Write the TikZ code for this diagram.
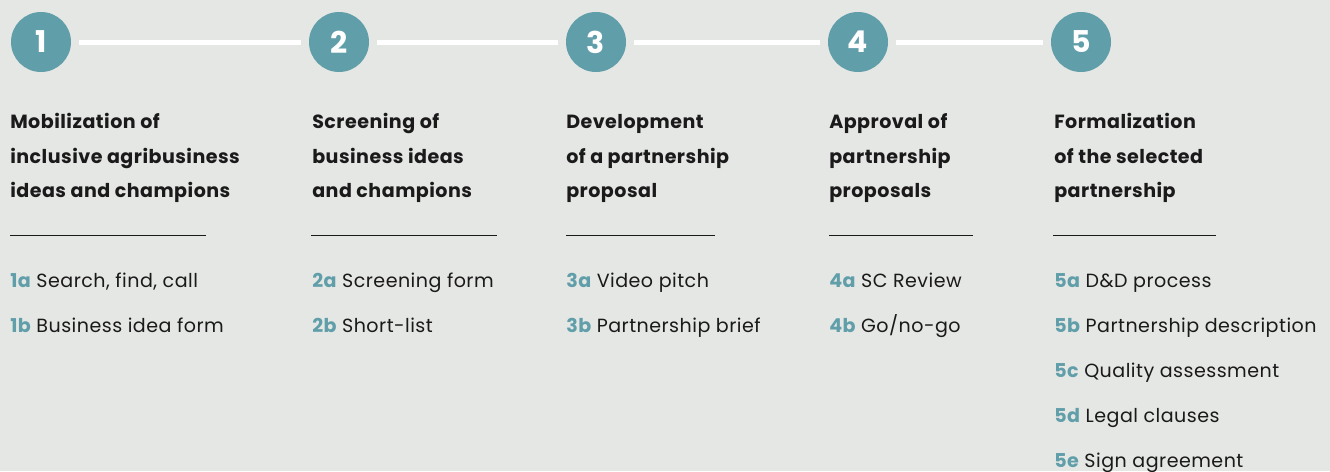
\documentclass[tikz,border=0pt]{standalone}
\usepackage{fontspec}
\setmainfont{Poppins}
\newfontfamily\spacedfont[LetterSpace=2.5]{Poppins}
\definecolor{bg}{HTML}{E5E7E4}
\definecolor{teal}{HTML}{609EA9}
\definecolor{ink}{HTML}{1A1A1A}
\tikzset{
  stepcircle/.style={circle,fill=teal,minimum size=45pt,inner sep=0pt,text=white,font=\bfseries\fontsize{22.5}{22.5}\selectfont},
  conn/.style={draw=white,line width=3.75pt,shorten <=6pt,shorten >=6pt},
  title/.style={anchor=base west,inner sep=0pt,text=ink,font=\spacedfont\bfseries\fontsize{14.3}{14.3}\selectfont},
  item/.style={anchor=base west,inner sep=0pt,text=ink,font=\spacedfont\fontsize{14.3}{14.3}\selectfont},
  sep/.style={draw=ink,line width=0.9pt}
}
\newcommand{\lab}[1]{\textcolor{teal}{\bfseries #1}}
\begin{document}
\begin{tikzpicture}[x=0.75pt,y=-0.75pt]
\fill[bg] (0,0) rectangle (1330,471);
\useasboundingbox (0,0) rectangle (1330,471);
% circles
\node[stepcircle] (c1) at (41,42) {1};
\node[stepcircle] (c2) at (339,42) {2};
\node[stepcircle] (c3) at (596,42) {3};
\node[stepcircle] (c4) at (858,42) {4};
\node[stepcircle] (c5) at (1081,42) {5};
\draw[conn] (c1.east) -- (c2.west);
\draw[conn] (c2.east) -- (c3.west);
\draw[conn] (c3.east) -- (c4.west);
\draw[conn] (c4.east) -- (c5.west);
% column 1
\node[title] (t1a) at (10,128) {Mobilization of};
\node[title] (t1b) at (10,163) {inclusive agribusiness};
\node[title] (t1c) at (10,197) {ideas and champions};
\coordinate (s1a) at (10,235.5); \coordinate (s1b) at (206,235.5);
\draw[sep] (s1a) -- (s1b);
\node[item] (i1a) at (10,287) {\lab{1a} Search, find, call};
\node[item] (i1b) at (10,332) {\lab{1b} Business idea form};
% column 2
\node[title] (t2a) at (312,128) {Screening of};
\node[title] (t2b) at (312,163) {business ideas};
\node[title] (t2c) at (312,197) {and champions};
\coordinate (s2a) at (311,235.5); \coordinate (s2b) at (497,235.5);
\draw[sep] (s2a) -- (s2b);
\node[item] (i2a) at (312,287) {\lab{2a} Screening form};
\node[item] (i2b) at (312,332) {\lab{2b} Short-list};
% column 3
\node[title] (t3a) at (566,128) {Development};
\node[title] (t3b) at (566,163) {of a partnership};
\node[title] (t3c) at (566,197) {proposal};
\coordinate (s3a) at (566,235.5); \coordinate (s3b) at (715,235.5);
\draw[sep] (s3a) -- (s3b);
\node[item] (i3a) at (566,287) {\lab{3a} Video pitch};
\node[item] (i3b) at (566,332) {\lab{3b} Partnership brief};
% column 4
\node[title] (t4a) at (829,128) {Approval of};
\node[title] (t4b) at (829,163) {partnership};
\node[title] (t4c) at (829,197) {proposals};
\coordinate (s4a) at (829,235.5); \coordinate (s4b) at (973,235.5);
\draw[sep] (s4a) -- (s4b);
\node[item] (i4a) at (829,287) {\lab{4a} SC Review};
\node[item] (i4b) at (829,332) {\lab{4b} Go/no-go};
% column 5
\node[title] (t5a) at (1054,128) {Formalization};
\node[title] (t5b) at (1054,163) {of the selected};
\node[title] (t5c) at (1054,197) {partnership};
\coordinate (s5a) at (1053,235.5); \coordinate (s5b) at (1216,235.5);
\draw[sep] (s5a) -- (s5b);
\node[item] (i5a) at (1054,287) {\lab{5a} D\&D process};
\node[item] (i5b) at (1054,332) {\lab{5b} Partnership description};
\node[item] (i5c) at (1054,377) {\lab{5c} Quality assessment};
\node[item] (i5d) at (1054,422) {\lab{5d} Legal clauses};
\node[item] (i5e) at (1054,467) {\lab{5e} Sign agreement};
\end{tikzpicture}
\end{document}
